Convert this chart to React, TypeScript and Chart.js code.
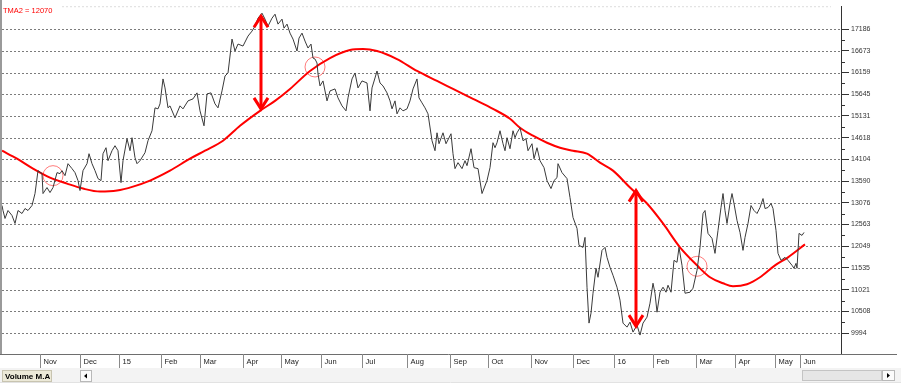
import { useEffect, useRef } from "react";
import { Chart, registerables } from "chart.js";

Chart.register(...registerables);

const FONT = '"Liberation Sans", Arial, sans-serif';

const maLabel = "TMA2 = 12070";
const yTickValues = [9994, 10508, 11021, 11535, 12049, 12563, 13076, 13590, 14104, 14618, 15131, 15645, 16159, 16673, 17186];
const monthLabels = ["Nov", "Dec", "15", "Feb", "Mar", "Apr", "May", "Jun", "Jul", "Aug", "Sep", "Oct", "Nov", "Dec", "16", "Feb", "Mar", "Apr", "May", "Jun"];
const monthStartDays = [19, 39, 58.5, 79.5, 99, 120.5, 139.5, 159.5, 180, 202.5, 224, 243, 264.5, 285.5, 306, 325.5, 347, 366.5, 386.5, 399];

const priceDays = [
  0, 0.5, 1.5, 3, 5, 6.5, 8, 10, 11.5, 13, 15, 16.5, 18, 20, 20.5, 22.5, 24, 25.5, 27.5, 29,
  30, 31.5, 33, 35, 36.5, 38, 39, 40.5, 42.5, 43.5, 45, 46.5, 48, 49.5, 50.5, 52, 53, 55, 56.5, 58,
  59.5, 60.5, 62.5, 64, 65, 66.5, 67.5, 69, 71.5, 73, 75,
  76.5, 78, 79, 80.5, 81.5, 83, 84, 86.5, 89, 90.5, 93, 95.5, 97.5, 99, 101, 102.5, 104.5, 106.5, 108, 110,
  111.5, 113, 115, 116.5, 118, 120.5, 123, 125, 126.5, 128, 130, 131.5, 133, 135, 136.5,
  138, 140, 141, 142.5, 144, 145.5, 147.5, 148.5, 150, 151.5, 153, 154.5, 155.5, 156.5, 157.5, 158, 159, 160.5, 162.5, 164,
  166.5, 168, 170, 172, 173, 175, 176.5, 178, 180, 182.5, 184, 185, 186.5, 187.5, 189, 190.5, 192.5, 194, 195, 196.5,
  197.5, 199, 200.5, 202.5, 204, 205.5, 207.5, 208.5, 210, 211.5, 213,
  215, 216.5, 217.5, 218.5, 220.5, 222, 224.5, 225.5, 226.5, 228, 230, 231.5, 232.5, 234.5, 236, 238, 240, 242.5, 244, 245.5,
  246.5, 247.5, 249, 250.5, 251.5, 252.5, 254, 255.5, 256.5, 257.5, 259, 260.5, 262, 263, 265, 266, 267.5, 269, 271, 272.5,
  274.5, 276, 277.5, 278, 280, 282.5, 284, 285.5, 287.5, 288.5, 290.5, 291.5, 292.5, 293.5, 294.5, 295.5, 297, 298,
  300, 301.5, 302.5, 304, 305.5, 307.5, 309, 310.5, 312.5, 314, 315.5, 317.5, 319, 320.5, 322.5, 324, 325.5, 326.5, 327.5, 329,
  330.5, 332, 333, 334.5, 336, 337.5, 338.5, 340, 341.5, 344, 345.5, 347.5, 349,
  350.5, 351.5, 353, 355, 356.5, 358, 359.5, 360.5, 361.5, 362.5, 364, 365, 366, 367.5, 369, 370.5, 371.5, 373, 374.5, 376,
  377.5, 379, 380.5, 381.5, 383, 384.5, 385.5, 387, 388, 389.5, 391.5, 393, 395, 396, 397, 397.5, 398.5, 400, 401,
];

const priceValues = [
  13012, 12894, 12706, 12894, 12776, 12588, 12894, 12823, 12941, 12894, 13012, 13295, 13837, 13767, 13295, 13437, 13319, 13437, 13790, 13767,
  13837, 13719, 14002, 13885, 13790, 13602, 13366, 13837, 14002, 14238, 14002, 13837, 13649, 13602, 14238, 14380, 14073, 14309, 14427, 14309,
  13554, 14073, 14592, 14309, 14616, 14144, 14002, 14073, 14262, 14545, 14781,
  15323, 15299, 15417, 16007, 15795, 15323, 15370, 15087, 15370, 15299, 15488, 15535, 15677, 15252, 14898, 15653, 15677, 15417, 15323, 15724,
  16077, 16148, 16950, 16667, 16832, 16785, 17021, 17139, 17256, 17445, 17563, 17422, 17256, 17445, 17539,
  17304, 17422, 17209, 17304, 17091, 16950, 16667, 16973, 17091, 16903, 16738, 16832, 16502, 16478, 16384, 16125, 15842, 15960, 15488, 15724,
  15771, 15559, 15370, 15252, 15559, 16007, 16148, 15795, 15960, 15912, 15252, 15795, 16030, 16195, 15912, 15842, 15677, 15488, 15299, 15488,
  15181, 15323, 15252, 15299, 15488, 15771, 16007, 15559, 15441, 15323, 15181,
  14545, 14309, 14733, 14474, 14733, 14474, 14710, 14238, 13885, 14026, 13885, 14073, 13955, 14356, 13908, 13885, 13295, 13602, 13908, 14498,
  14380, 14498, 14781, 14474, 14309, 14616, 14356, 14781, 14616, 14733, 14851, 14545, 14592, 14309, 14474, 14120, 14380, 14073, 13908, 13602,
  13413, 13602, 13672, 14002, 13790, 13649, 13201, 12729, 12470, 12069, 12022, 12258, 11079, 10230, 10465, 10937, 11527, 11314,
  11951, 12022, 11786, 11550, 11361, 11079, 10772, 10230, 10135, 10253, 10017, 10182, 9947, 10230, 10371, 10701, 11173, 10937, 10489, 10961,
  11079, 10961, 11126, 10961, 11715, 11668, 12022, 11597, 10937, 10961, 11055, 11479, 12022,
  12823, 12894, 12352, 12234, 11880, 12423, 12965, 13295, 12894, 12588, 13059, 13295, 13059, 12658, 12375, 11951, 12258, 12588, 13012, 12894,
  12823, 12965, 13177, 12941, 12965, 13059, 12941, 12423, 11880, 11715, 11786, 11715, 11597, 11527, 11644, 11527, 12352, 12305, 12375,
];

const maDays = [
  0, 7.5, 15.5, 24, 32.5, 40.5, 49, 57.5, 65.5, 74, 84, 94, 101.5, 110.5, 119, 129, 136.5, 144, 154, 164,
  174, 180.5, 187.5, 197.5, 207.5, 217.5, 225.5, 235.5, 245.5, 254, 259, 265.5, 272.5, 279, 285.5, 292.5, 299, 305.5, 314, 322.5,
  330.5, 339, 347.5, 354, 360.5, 365.5, 372.5, 379, 386.5, 393, 401.5,
];
const maValues = [
  14309, 14120, 13885, 13672, 13531, 13413, 13342, 13366, 13460, 13602, 13837, 14120, 14309, 14545, 14898, 15252, 15488, 15771, 16195, 16502,
  16691, 16714, 16667, 16478, 16195, 15960, 15771, 15535, 15299, 15064, 14851, 14663, 14498, 14380, 14309, 14238, 14026, 13837, 13437, 13059,
  12588, 12022, 11597, 11314, 11173, 11102, 11149, 11314, 11597, 11786, 12092,
];

const arrowDays = [129.5, 317];
const arrowFrom = [17539, 13413];
const arrowTo = [15252, 10112];

const circleDays = [25.5, 156.5, 347.5];
const circleValues = [13719, 16290, 11574];

const chromePlugin = {
  id: "chrome",
  beforeDatasetsDraw(chart: any) {
    const { ctx, chartArea: a, scales } = chart;
    const ys = scales.y;
    ctx.save();
    ctx.lineWidth = 1;
    ctx.setLineDash([2, 2]);
    ctx.strokeStyle = "#7c7c7c";
    for (const v of yTickValues) {
      const py = Math.round(ys.getPixelForValue(v)) + 0.5;
      ctx.beginPath();
      ctx.moveTo(a.left, py);
      ctx.lineTo(a.right, py);
      ctx.stroke();
    }
    ctx.strokeStyle = "#dddddd";
    ctx.beginPath();
    ctx.moveTo(a.left + 60, a.top + 0.5);
    ctx.lineTo(a.right - 10, a.top + 0.5);
    ctx.stroke();
    ctx.restore();
  },
  afterDatasetsDraw(chart: any) {
    const { ctx, scales } = chart;
    const xs = scales.x;
    const ys = scales.y;
    ctx.save();
    ctx.strokeStyle = "#ff0000";
    ctx.lineWidth = 3;
    ctx.lineJoin = "miter";
    arrowDays.forEach((d, i) => {
      const px = Math.round(xs.getPixelForValue(d));
      const y1 = ys.getPixelForValue(arrowFrom[i]);
      const y2 = ys.getPixelForValue(arrowTo[i]);
      ctx.beginPath();
      ctx.moveTo(px, y1 + 2);
      ctx.lineTo(px, y2 - 2);
      ctx.stroke();
      ctx.beginPath();
      ctx.moveTo(px - 7, y1 + 13);
      ctx.lineTo(px, y1 + 2);
      ctx.lineTo(px + 7, y1 + 13);
      ctx.stroke();
      ctx.beginPath();
      ctx.moveTo(px - 7, y2 - 13);
      ctx.lineTo(px, y2 - 2);
      ctx.lineTo(px + 7, y2 - 13);
      ctx.stroke();
    });
    ctx.restore();
  },
  afterDraw(chart: any) {
    const { ctx, chartArea: a, scales } = chart;
    const xs = scales.x;
    const ys = scales.y;
    const b = a.bottom;
    ctx.save();
    // left border
    ctx.fillStyle = "#9a9a9a";
    ctx.fillRect(0, 0, 2, b);
    // minor ticks on right axis
    ctx.strokeStyle = "#333";
    ctx.lineWidth = 1;
    for (let i = 0; i < yTickValues.length - 1; i++) {
      const mv = (yTickValues[i] + yTickValues[i + 1]) / 2;
      const py = Math.round(ys.getPixelForValue(mv)) + 0.5;
      ctx.beginPath();
      ctx.moveTo(a.right, py);
      ctx.lineTo(a.right + 4, py);
      ctx.stroke();
    }
    // bottom band
    ctx.fillStyle = "#f3f3f3";
    ctx.fillRect(0, b + 14, 901, 14);
    ctx.strokeStyle = "#e2e2e2";
    ctx.beginPath();
    ctx.moveTo(0, b + 28.5);
    ctx.lineTo(901, b + 28.5);
    ctx.stroke();
    // bottom border line
    ctx.strokeStyle = "#6e6e6e";
    ctx.beginPath();
    ctx.moveTo(0, b + 0.5);
    ctx.lineTo(897, b + 0.5);
    ctx.stroke();
    // month separators and labels
    ctx.strokeStyle = "#8a8a8a";
    ctx.fillStyle = "#222";
    ctx.font = `7.5px ${FONT}`;
    ctx.textBaseline = "middle";
    ctx.textAlign = "left";
    monthStartDays.forEach((d, i) => {
      const px = Math.round(xs.getPixelForValue(d)) + 0.5;
      ctx.beginPath();
      ctx.moveTo(px, b);
      ctx.lineTo(px, b + 14);
      ctx.stroke();
      ctx.fillText(monthLabels[i], px + 3, b + 7.5);
    });
    // title
    ctx.fillStyle = "#ff0000";
    ctx.font = `7.5px ${FONT}`;
    ctx.fillText(maLabel, 3, 10.5);
    // Volume M.A tab
    ctx.fillStyle = "#ece9d8";
    ctx.fillRect(2, b + 16, 50, 12);
    ctx.strokeStyle = "#c8c4b0";
    ctx.strokeRect(2.5, b + 16.5, 49, 11);
    ctx.fillStyle = "#000";
    ctx.font = `bold 8px ${FONT}`;
    ctx.fillText("Volume M.A", 5, b + 22.5);
    // left scroll button
    ctx.fillStyle = "#fbfbfb";
    ctx.fillRect(80, b + 16, 12, 12);
    ctx.strokeStyle = "#b8b8b8";
    ctx.strokeRect(80.5, b + 16.5, 11, 11);
    ctx.fillStyle = "#000";
    ctx.beginPath();
    ctx.moveTo(84, b + 22);
    ctx.lineTo(87, b + 19.5);
    ctx.lineTo(87, b + 24.5);
    ctx.closePath();
    ctx.fill();
    // right scroll track and button
    ctx.fillStyle = "#e6e6e6";
    ctx.fillRect(802, b + 16, 80, 11);
    ctx.strokeStyle = "#c4c4c4";
    ctx.strokeRect(802.5, b + 16.5, 79, 10);
    ctx.fillStyle = "#fbfbfb";
    ctx.fillRect(882, b + 16, 13, 11);
    ctx.strokeStyle = "#b8b8b8";
    ctx.strokeRect(882.5, b + 16.5, 12, 10);
    ctx.fillStyle = "#000";
    ctx.beginPath();
    ctx.moveTo(890, b + 21.5);
    ctx.lineTo(887, b + 19);
    ctx.lineTo(887, b + 24);
    ctx.closePath();
    ctx.fill();
    ctx.restore();
  },
};

export default function App() {
  const ref = useRef<HTMLCanvasElement | null>(null);

  useEffect(() => {
    if (!ref.current) return;
    const chart = new Chart(ref.current, {
      type: "line",
      data: {
        datasets: [
          {
            label: "Price",
            data: priceDays.map((d, i) => ({ x: d, y: priceValues[i] })),
            borderColor: "#3a3a3a",
            borderWidth: 1,
            pointRadius: 0,
            tension: 0,
          },
          {
            label: "TMA2",
            data: maDays.map((d, i) => ({ x: d, y: maValues[i] })),
            borderColor: "#ff0000",
            borderWidth: 2,
            pointRadius: 0,
            tension: 0.4,
            cubicInterpolationMode: "monotone",
          },
          {
            label: "Crossings",
            data: circleDays.map((d, i) => ({ x: d, y: circleValues[i] })),
            showLine: false,
            pointRadius: 10,
            pointBorderWidth: 1,
            pointBorderColor: "rgba(255,80,80,0.75)",
            pointBackgroundColor: "rgba(0,0,0,0)",
            borderColor: "rgba(0,0,0,0)",
          },
        ],
      } as any,
      options: {
        responsive: false,
        devicePixelRatio: 1,
        animation: false,
        layout: { autoPadding: false, padding: { left: 2, top: 5, right: 0, bottom: 38 } },
        plugins: { legend: { display: false }, tooltip: { enabled: false } },
        scales: {
          x: { type: "linear", min: 0, max: 419.5, display: false },
          y: {
            type: "linear",
            position: "right",
            min: 9499,
            max: 17728,
            afterBuildTicks: (s: any) => {
              s.ticks = yTickValues.map((v) => ({ value: v }));
            },
            afterFit: (s: any) => {
              s.width = 60;
            },
            grid: { drawOnChartArea: false, drawTicks: true, tickLength: 8, tickColor: "#333", color: "#333" },
            border: { display: true, color: "#333", width: 1 },
            ticks: {
              padding: 2,
              color: "#333",
              font: { size: 7, family: FONT },
              callback: (v: any) => String(v),
            },
          },
        },
      } as any,
      plugins: [chromePlugin],
    });
    return () => chart.destroy();
  }, []);

  return (
    <div style={{ position: "fixed", left: 0, top: 0, width: 901, height: 392, background: "#fff" }}>
      <canvas ref={ref} width={901} height={392} style={{ display: "block" }} />
    </div>
  );
}
